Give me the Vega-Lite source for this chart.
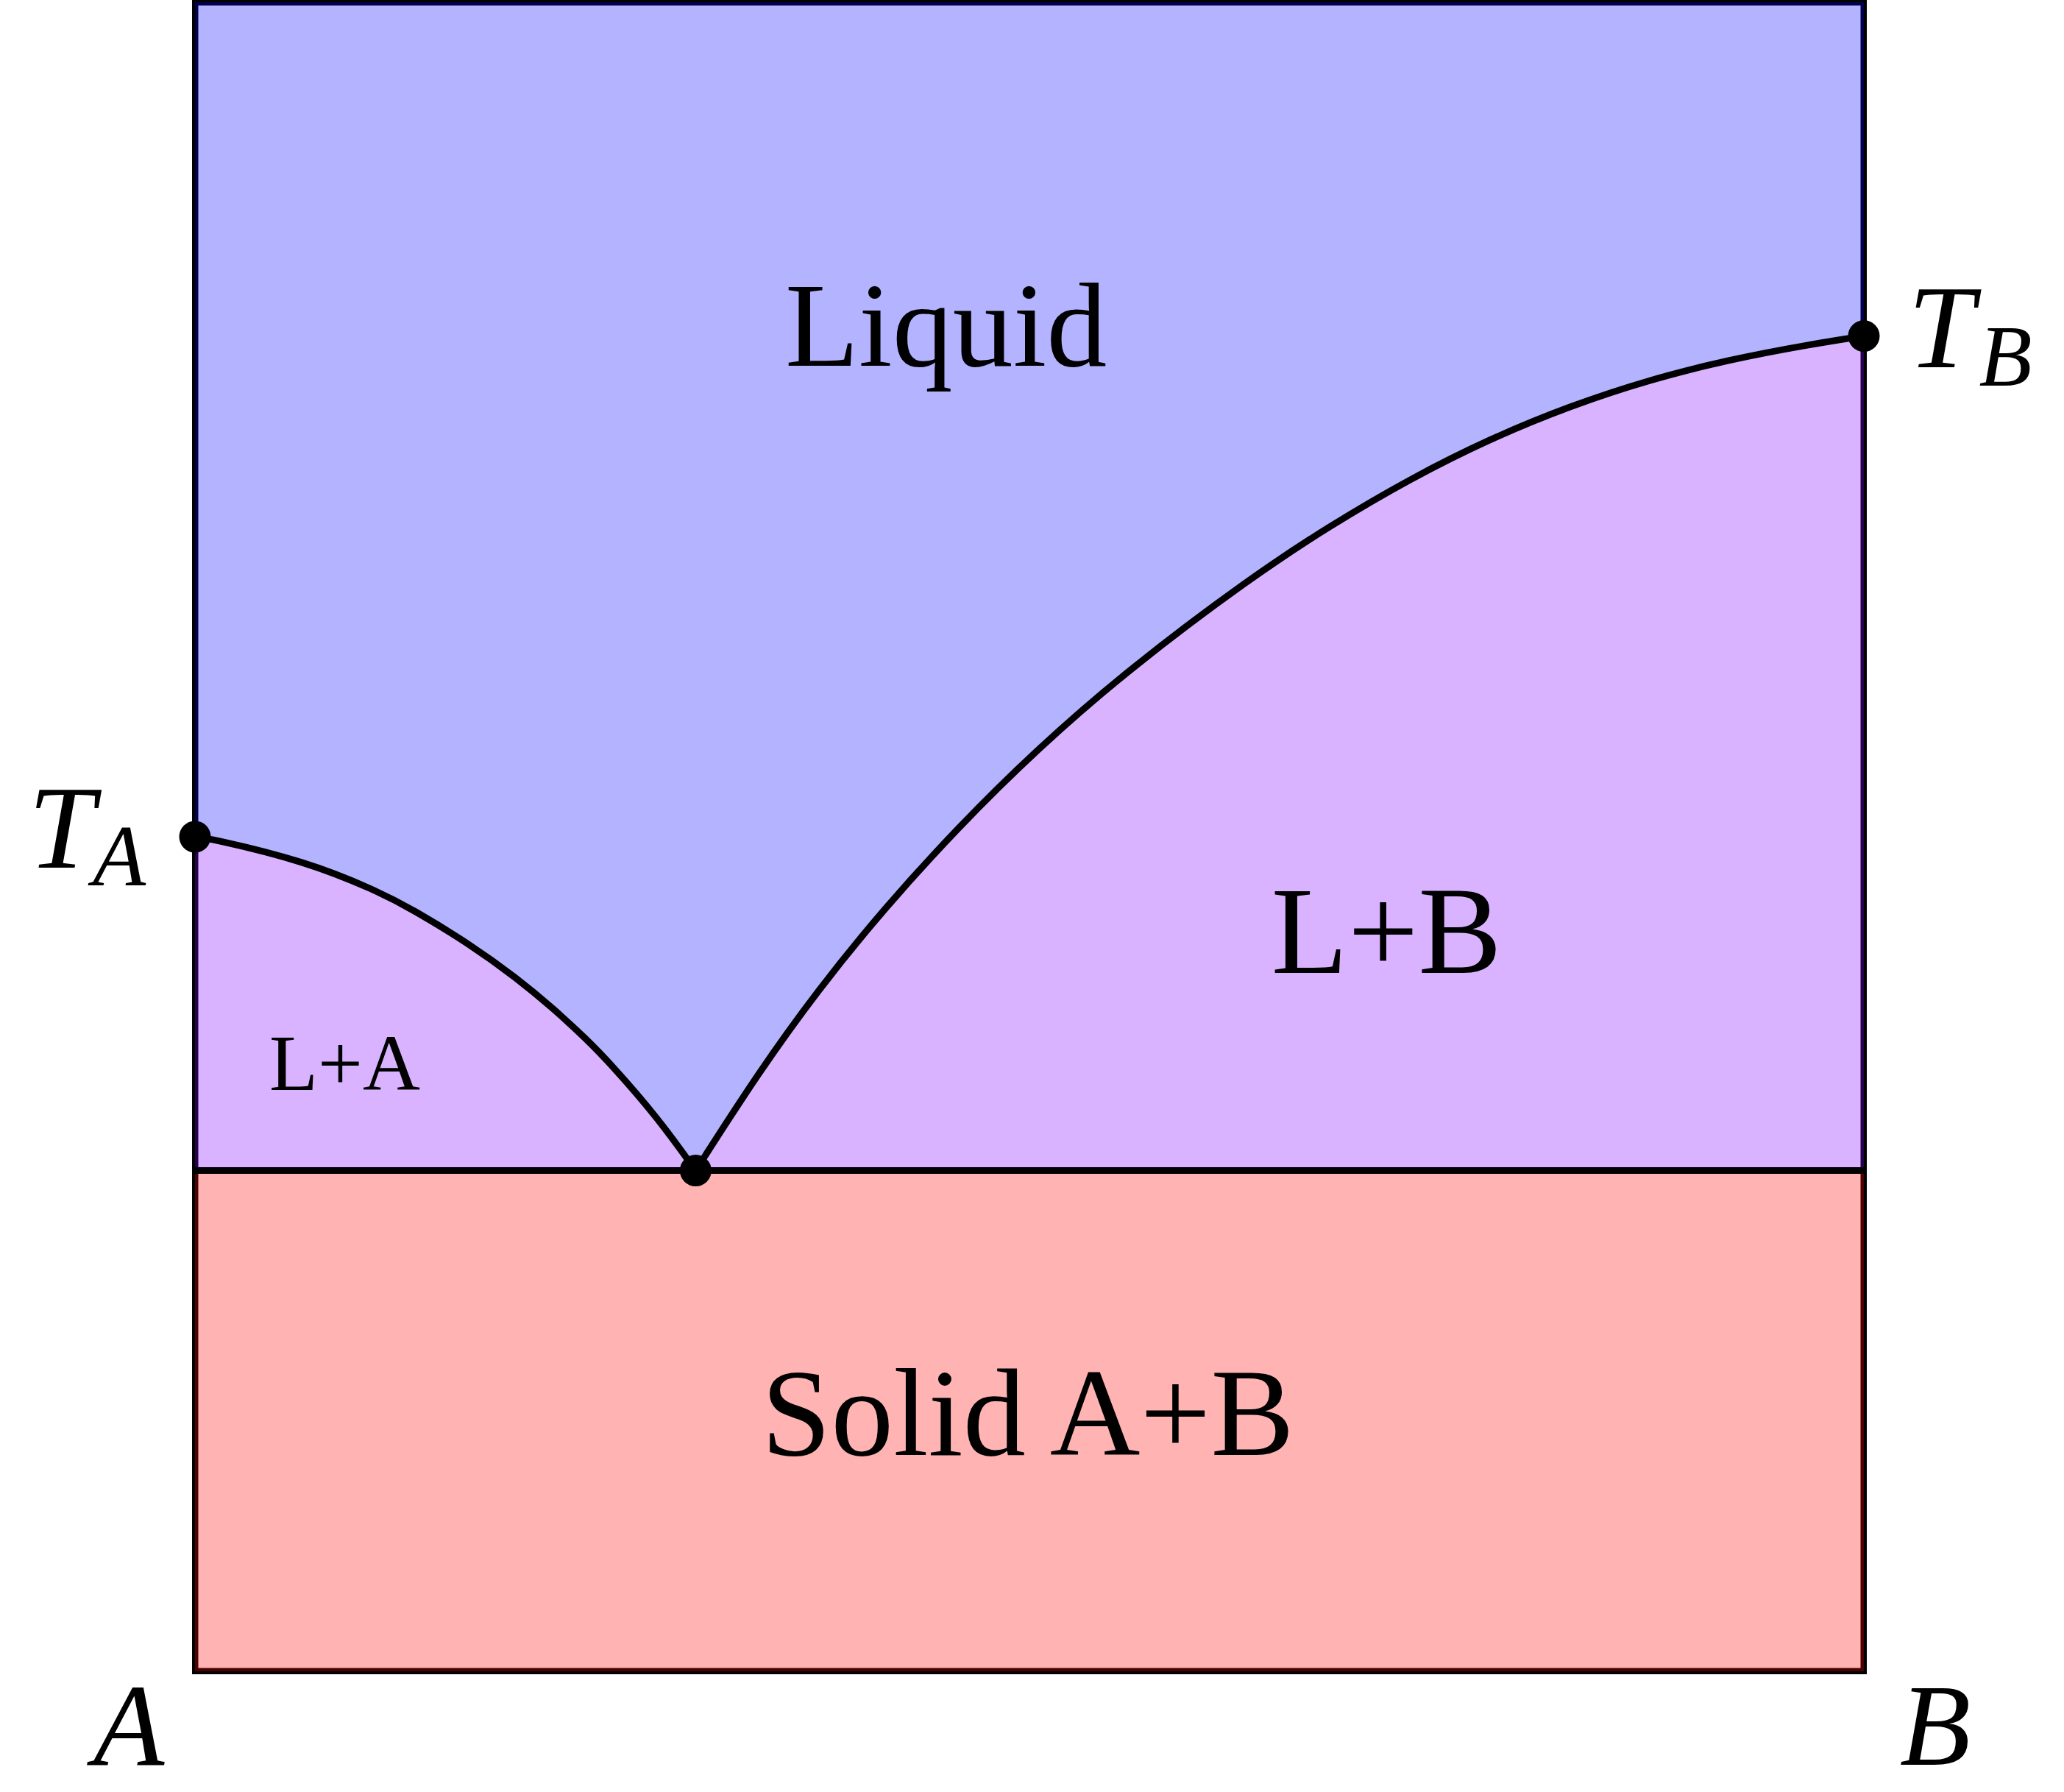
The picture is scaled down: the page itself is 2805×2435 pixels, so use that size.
{
  "$schema": "https://vega.github.io/schema/vega-lite/v6.json",
  "width": 2268,
  "height": 2268,
  "autosize": {"type": "none"},
  "padding": {"left": 265, "top": 3, "right": 272, "bottom": 164},
  "background": "white",
  "config": {"view": {"stroke": null}},
  "layer": [
    {
      "data": {"values": [{"x": 0.00992, "x2": 9.99008, "y": 3, "y2": 9.99008}]},
      "mark": {"type": "rect", "fill": "#b3b3ff", "stroke": "#00004d", "strokeWidth": 4.5, "clip": false},
      "encoding": {
        "x": {"field": "x", "type": "quantitative", "scale": {"domain": [0, 10], "nice": false, "zero": false}, "axis": null},
        "x2": {"field": "x2"},
        "y": {"field": "y", "type": "quantitative", "scale": {"domain": [0, 10], "nice": false, "zero": false}, "axis": null},
        "y2": {"field": "y2"}
      }
    },
    {
      "data": {"values": [{"x": 0.00992, "x2": 9.99008, "y": 0.00992, "y2": 3}]},
      "mark": {"type": "rect", "fill": "#ffb3b3", "stroke": "#4d0000", "strokeWidth": 4.5, "clip": false},
      "encoding": {
        "x": {"field": "x", "type": "quantitative"},
        "x2": {"field": "x2"},
        "y": {"field": "y", "type": "quantitative"},
        "y2": {"field": "y2"}
      }
    },
    {
      "data": {"name": "curves", "values": [
        {"curve": "left", "x": 0, "y": 5},
        {"curve": "left", "x": 0.1, "y": 4.988},
        {"curve": "left", "x": 0.659, "y": 4.854},
        {"curve": "left", "x": 1.081, "y": 4.681},
        {"curve": "left", "x": 1.306, "y": 4.564},
        {"curve": "left", "x": 1.644, "y": 4.358},
        {"curve": "left", "x": 1.925, "y": 4.156},
        {"curve": "left", "x": 2.15, "y": 3.969},
        {"curve": "left", "x": 2.347, "y": 3.786},
        {"curve": "left", "x": 2.487, "y": 3.643},
        {"curve": "left", "x": 2.768, "y": 3.323},
        {"curve": "left", "x": 3, "y": 3},
        {"curve": "right", "x": 3, "y": 3},
        {"curve": "right", "x": 3.373, "y": 3.582},
        {"curve": "right", "x": 3.732, "y": 4.081},
        {"curve": "right", "x": 4.127, "y": 4.567},
        {"curve": "right", "x": 4.568, "y": 5.052},
        {"curve": "right", "x": 5.047, "y": 5.526},
        {"curve": "right", "x": 5.597, "y": 6.005},
        {"curve": "right", "x": 6.327, "y": 6.553},
        {"curve": "right", "x": 6.805, "y": 6.866},
        {"curve": "right", "x": 7.283, "y": 7.146},
        {"curve": "right", "x": 7.761, "y": 7.385},
        {"curve": "right", "x": 8.239, "y": 7.581},
        {"curve": "right", "x": 8.717, "y": 7.739},
        {"curve": "right", "x": 9.195, "y": 7.859},
        {"curve": "right", "x": 9.673, "y": 7.949},
        {"curve": "right", "x": 10, "y": 8}
      ]},
      "layer": [
        {
          "transform": [{"filter": "datum.curve === 'left'"}],
          "mark": {"type": "area", "color": "#d9b3ff", "interpolate": "basis", "clip": false},
          "encoding": {
            "x": {"field": "x", "type": "quantitative"},
            "y": {"field": "y", "type": "quantitative"},
            "y2": {"datum": 3}
          }
        },
        {
          "transform": [{"filter": "datum.curve === 'right'"}],
          "mark": {"type": "area", "color": "#d9b3ff", "interpolate": "basis", "clip": false},
          "encoding": {
            "x": {"field": "x", "type": "quantitative"},
            "y": {"field": "y", "type": "quantitative"},
            "y2": {"datum": 3}
          }
        }
      ]
    },
    {
      "data": {"values": [{"x": 0.00992, "y": 3, "y2": 5}, {"x": 9.99008, "y": 3, "y2": 8}]},
      "mark": {"type": "rule", "color": "#26004d", "strokeWidth": 4.5, "clip": false},
      "encoding": {
        "x": {"field": "x", "type": "quantitative"},
        "y": {"field": "y", "type": "quantitative"},
        "y2": {"field": "y2"}
      }
    },
    {
      "data": {"values": [{"x": -0.00882, "x2": 10.00882, "y": -0.00882, "y2": 10.00882}]},
      "mark": {"type": "rect", "fill": null, "fillOpacity": 0, "stroke": "black", "strokeWidth": 4, "clip": false},
      "encoding": {
        "x": {"field": "x", "type": "quantitative"},
        "x2": {"field": "x2"},
        "y": {"field": "y", "type": "quantitative"},
        "y2": {"field": "y2"}
      }
    },
    {
      "data": {"values": [{"x": 0, "x2": 10, "y": 3}]},
      "mark": {"type": "rule", "color": "black", "strokeWidth": 9, "clip": false},
      "encoding": {
        "x": {"field": "x", "type": "quantitative"},
        "x2": {"field": "x2"},
        "y": {"field": "y", "type": "quantitative"}
      }
    },
    {
      "data": {"name": "curves"},
      "mark": {"type": "line", "color": "black", "strokeWidth": 9, "interpolate": "basis", "strokeCap": "round", "clip": false},
      "encoding": {
        "x": {"field": "x", "type": "quantitative"},
        "y": {"field": "y", "type": "quantitative"},
        "detail": {"field": "curve"}
      }
    },
    {
      "data": {"values": [{"x": 0, "y": 5}, {"x": 3, "y": 3}, {"x": 10, "y": 8}]},
      "mark": {"type": "circle", "color": "black", "opacity": 1, "size": 1850, "clip": false},
      "encoding": {
        "x": {"field": "x", "type": "quantitative"},
        "y": {"field": "y", "type": "quantitative"}
      }
    },
    {
      "data": {"values": [
        {"label": "Liquid", "x": 4.5, "y": 7.82}
      ]},
      "mark": {"type": "text", "font": "Liberation Serif", "fontSize": 164, "color": "black", "align": "center", "baseline": "alphabetic", "clip": false},
      "encoding": {
        "x": {"field": "x", "type": "quantitative"},
        "y": {"field": "y", "type": "quantitative"},
        "text": {"field": "label"}
      }
    },
    {
      "data": {"values": [
        {"label": "L+B", "x": 7.14, "y": 4.184},
        {"label": "Solid A+B", "x": 4.99, "y": 1.296}
      ]},
      "mark": {"type": "text", "font": "Liberation Serif", "fontSize": 170, "color": "black", "align": "center", "baseline": "alphabetic", "clip": false},
      "encoding": {
        "x": {"field": "x", "type": "quantitative"},
        "y": {"field": "y", "type": "quantitative"},
        "text": {"field": "label"}
      }
    },
    {
      "data": {"values": [{"label": "L+A", "x": 0.897, "y": 3.484}]},
      "mark": {"type": "text", "font": "Liberation Serif", "fontSize": 108, "color": "black", "align": "center", "baseline": "alphabetic", "clip": false},
      "encoding": {
        "x": {"field": "x", "type": "quantitative"},
        "y": {"field": "y", "type": "quantitative"},
        "text": {"field": "label"}
      }
    },
    {
      "data": {"values": [
        {"label": "T", "x": -0.80, "y": 4.813},
        {"label": "T", "x": 10.463, "y": 7.812}
      ]},
      "mark": {"type": "text", "font": "Liberation Serif", "fontStyle": "italic", "fontSize": 162, "color": "black", "align": "center", "baseline": "alphabetic", "clip": false},
      "encoding": {
        "x": {"field": "x", "type": "quantitative"},
        "y": {"field": "y", "type": "quantitative"},
        "text": {"field": "label"}
      }
    },
    {
      "data": {"values": [
        {"label": "A", "x": -0.397, "y": -0.561},
        {"label": "B", "x": 10.428, "y": -0.561}
      ]},
      "mark": {"type": "text", "font": "Liberation Serif", "fontStyle": "italic", "fontSize": 158, "color": "black", "align": "center", "baseline": "alphabetic", "clip": false},
      "encoding": {
        "x": {"field": "x", "type": "quantitative"},
        "y": {"field": "y", "type": "quantitative"},
        "text": {"field": "label"}
      }
    },
    {
      "data": {"values": [
        {"label": "A", "x": -0.454, "y": 4.707},
        {"label": "B", "x": 10.849, "y": 7.701}
      ]},
      "mark": {"type": "text", "font": "Liberation Serif", "fontStyle": "italic", "fontSize": 118, "color": "black", "align": "center", "baseline": "alphabetic", "clip": false},
      "encoding": {
        "x": {"field": "x", "type": "quantitative"},
        "y": {"field": "y", "type": "quantitative"},
        "text": {"field": "label"}
      }
    }
  ]
}
